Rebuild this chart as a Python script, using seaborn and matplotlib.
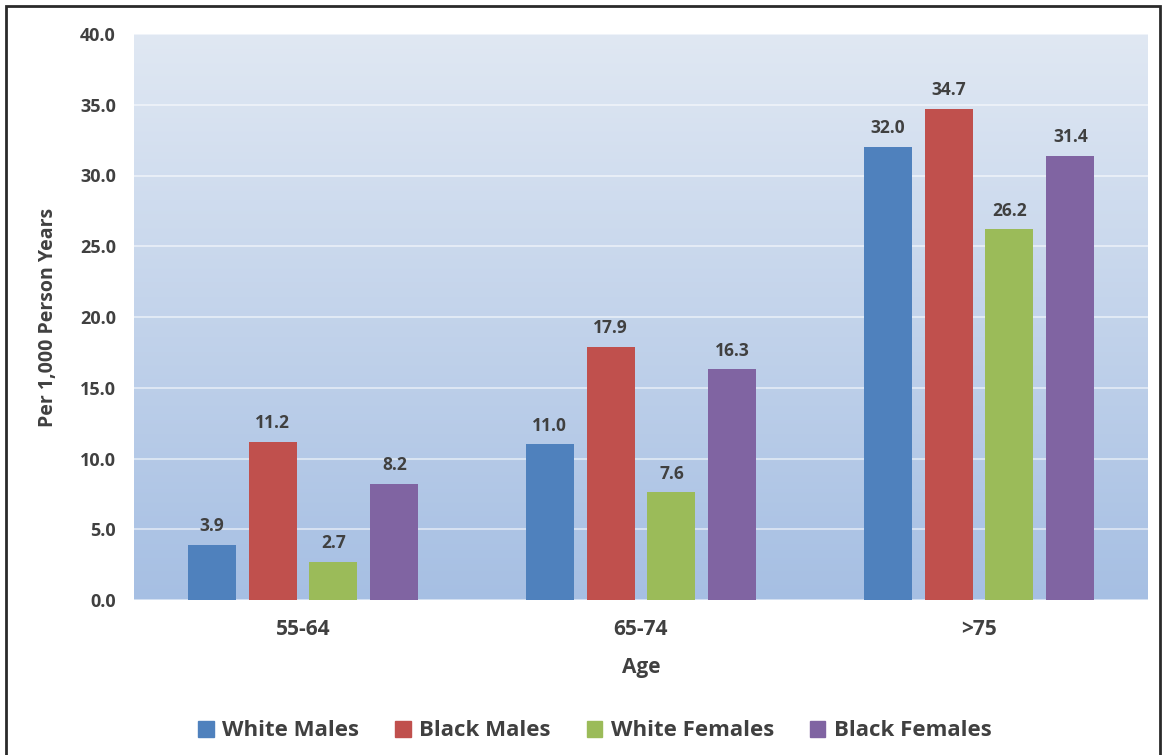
import numpy as np
import pandas as pd
import matplotlib
matplotlib.use("Agg")
import matplotlib.pyplot as plt
from matplotlib.patches import Rectangle
from matplotlib.colors import LinearSegmentedColormap
import seaborn as sns

ages = ["55-64", "65-74", ">75"]
groups = ["White Males", "Black Males", "White Females", "Black Females"]
white_males = [3.9, 11.0, 32.0]
black_males = [11.2, 17.9, 34.7]
white_females = [2.7, 7.6, 26.2]
black_females = [8.2, 16.3, 31.4]
colors = ["#4f81bd", "#c0504d", "#9bbb59", "#8064a2"]
yticks = [0, 5, 10, 15, 20, 25, 30, 35, 40]

rows = []
for g, vals in zip(groups, [white_males, black_males, white_females, black_females]):
    for a, v in zip(ages, vals):
        rows.append({"Age": a, "Group": g, "Value": v})
df = pd.DataFrame(rows)

sns.set_theme(style="white")
plt.rcParams["font.family"] = ["Open Sans", "DejaVu Sans"]
txt = "#404040"

fig = plt.figure(figsize=(11.63, 7.55), dpi=100)
ax = fig.add_axes([134/1163, 1 - 600/755, (1148-134)/1163, (600-34)/755])

# gradient background
grad = np.linspace(0, 1, 256).reshape(-1, 1)
cmap = LinearSegmentedColormap.from_list("bg", ["#e0e8f3", "#a6bfe3"])
ax.imshow(grad, aspect="auto", cmap=cmap, extent=(-0.5, 2.5, 0, 40), zorder=0, origin="upper")

sns.barplot(data=df, x="Age", y="Value", hue="Group", hue_order=groups, order=ages,
            palette=colors, width=0.72, gap=0.21, ax=ax, zorder=3, saturation=1,
            linewidth=0)

ax.set_xlim(-0.5, 2.5)
ax.set_ylim(0, 40)
ax.set_yticks(yticks)
ax.set_yticklabels([f"{t:.1f}" for t in yticks])
ax.yaxis.grid(True, color="white", linewidth=1.2, alpha=0.6, zorder=1)
ax.set_axisbelow(True)
for s in ax.spines.values():
    s.set_visible(False)
ax.tick_params(axis="y", labelsize=13, colors=txt, length=0, pad=13)
ax.tick_params(axis="x", labelsize=15, colors=txt, length=0, pad=14)
for lab in ax.get_xticklabels() + ax.get_yticklabels():
    lab.set_fontweight("bold")

ax.set_xlabel("Age", fontsize=15, fontweight="bold", color=txt, labelpad=12)
ax.set_ylabel("Per 1,000 Person Years", fontsize=14, fontweight="bold", color=txt, labelpad=16)

for cont in ax.containers:
    ax.bar_label(cont, fmt="%.1f", padding=7, fontsize=12.5, fontweight="bold", color=txt)

ax.legend_.remove()
handles = [Rectangle((0, 0), 1, 1, color=c) for c in colors]
fig.legend(handles, groups, loc="center", bbox_to_anchor=(595/1163, 1 - 731/755), ncol=4,
           frameon=False, handlelength=0.7, handleheight=0.7,
           columnspacing=1.6, handletextpad=0.4,
           prop={"weight": "bold", "size": 16})
for t in fig.legends[0].get_texts():
    t.set_color(txt)

fig.patches.append(Rectangle((6/1163, -0.02), (1160-6)/1163, 1.02 - 6/755,
                             transform=fig.transFigure, fill=False,
                             edgecolor="#2a2a2a", linewidth=2, zorder=10))

fig.savefig("out.png", dpi=100)
